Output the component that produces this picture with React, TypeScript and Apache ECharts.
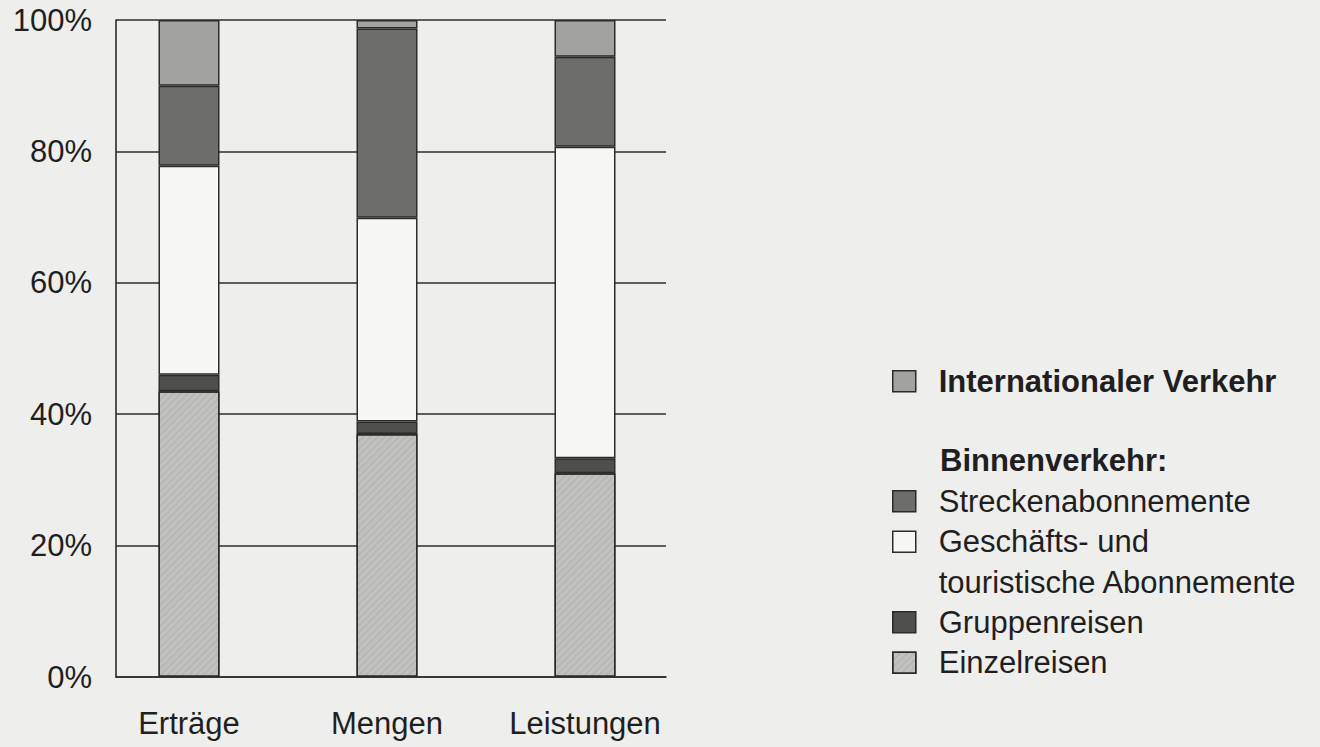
import React, { useEffect, useRef } from "react";
import * as echarts from "echarts";

const categories = ["Erträge", "Mengen", "Leistungen"];
const yTicks = [0, 20, 40, 60, 80, 100];
const einzelreisen = [43.5, 37.0, 31.0];
const gruppenreisen = [2.5, 1.9, 2.3];
const geschaefts = [31.8, 31.0, 47.4];
const strecken = [12.2, 28.8, 13.7];
const international = [10.0, 1.3, 5.6];

const NAME_INTL = "Internationaler Verkehr";
const NAME_STRECKEN = "Streckenabonnemente";
const NAME_GESCH = "Geschäfts- und touristische Abonnemente";
const NAME_GRUPPEN = "Gruppenreisen";
const NAME_EINZEL = "Einzelreisen";
const HEADER_BINNEN = "Binnenverkehr:";

const FONT = "'Liberation Sans', Arial, Helvetica, sans-serif";
const TEXT = "#1f1f1f";
const EDGE = "#2b2b2b";

export default function App() {
  const ref = useRef<HTMLDivElement>(null);
  useEffect(() => {
    if (!ref.current) return;
    const chart = echarts.init(ref.current, undefined, { renderer: "svg" });
    const bar = (name: string, data: number[], color: string, extra: any = {}) => ({
      name,
      type: "bar",
      stack: "total",
      xAxisIndex: 0,
      yAxisIndex: 0,
      barWidth: 61,
      data,
      itemStyle: { color, borderColor: EDGE, borderWidth: 1.5, ...extra },
      emphasis: { disabled: true },
    });
    const legendBase = {
      orient: "vertical",
      left: 892,
      padding: 0,
      icon: "rect",
      itemWidth: 23,
      itemHeight: 21,
      itemGap: 0,
      itemStyle: { borderColor: EDGE, borderWidth: 1.5 },
      textStyle: {
        fontFamily: FONT,
        fontSize: 31,
        color: TEXT,
        lineHeight: 40.5,
        padding: [0, 0, 0, 18],
      },
    };
    chart.setOption({
      animation: false,
      backgroundColor: "#eeeeec",
      textStyle: { fontFamily: FONT },
      grid: [
        { left: 90, width: 594, top: 20, height: 657 },
        { left: 116, width: 550, top: 20, height: 657 },
      ],
      xAxis: [
        {
          type: "category",
          gridIndex: 0,
          data: categories,
          axisLine: { show: false },
          axisTick: { show: false },
          axisLabel: { fontSize: 31, color: TEXT, fontFamily: FONT, margin: 31 },
        },
        {
          type: "value",
          gridIndex: 1,
          min: 0,
          max: 1,
          axisLine: { show: true, lineStyle: { color: EDGE, width: 1.6 } },
          axisTick: { show: false },
          axisLabel: { show: false },
          splitLine: { show: false },
        },
      ],
      yAxis: [
        {
          type: "value",
          gridIndex: 0,
          min: 0,
          max: 100,
          show: false,
        },
        {
          type: "value",
          gridIndex: 1,
          min: yTicks[0],
          max: yTicks[yTicks.length - 1],
          interval: 20,
          axisLine: { show: true, lineStyle: { color: EDGE, width: 1.6 } },
          axisTick: { show: false },
          axisLabel: {
            formatter: "{value}%",
            fontSize: 31,
            color: TEXT,
            fontFamily: FONT,
            margin: 24,
          },
          splitLine: { show: true, lineStyle: { color: EDGE, width: 1.6 } },
        },
      ],
      legend: [
        {
          ...legendBase,
          top: 361,
          data: [NAME_INTL],
          textStyle: { ...legendBase.textStyle, fontWeight: "bold" },
        },
        { ...legendBase, top: 481, data: [NAME_STRECKEN] },
        {
          ...legendBase,
          top: 481,
          data: [NAME_GESCH],
          formatter: () => " \nGeschäfts- und\ntouristische Abonnemente",
        },
        { ...legendBase, top: 602, data: [NAME_GRUPPEN, NAME_EINZEL] },
      ],
      graphic: [
        {
          type: "text",
          left: 940,
          top: 445,
          style: {
            text: HEADER_BINNEN,
            fontFamily: FONT,
            fontSize: 31,
            fontWeight: "bold",
            fill: TEXT,
          },
        },
      ],
      series: [
        bar(NAME_EINZEL, einzelreisen, "#c1c1bf", {
          decal: {
            symbol: "rect",
            color: "rgba(0,0,0,0.05)",
            dashArrayX: [1, 0],
            dashArrayY: [2, 3],
            rotation: -Math.PI / 4,
          },
        }),
        bar(NAME_GRUPPEN, gruppenreisen, "#4e4e4c"),
        bar(NAME_GESCH, geschaefts, "#f7f7f5"),
        bar(NAME_STRECKEN, strecken, "#6d6d6b"),
        bar(NAME_INTL, international, "#a2a2a0"),
      ],
    });
    return () => chart.dispose();
  }, []);
  return (
    <div
      ref={ref}
      style={{ position: "absolute", left: 0, top: 0, width: 1320, height: 747 }}
    />
  );
}
